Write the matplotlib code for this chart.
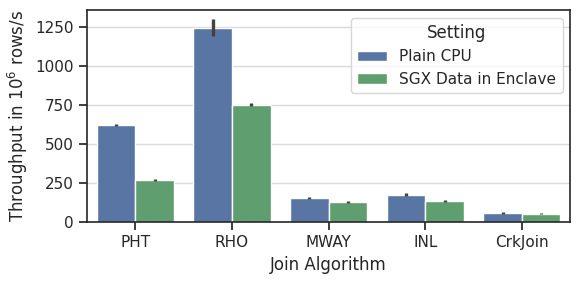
import numpy as np
import matplotlib
matplotlib.use("Agg")
import matplotlib.pyplot as plt
import seaborn as sns

algorithms = ["PHT", "RHO", "MWAY", "INL", "CrkJoin"]
settings = ["Plain CPU", "SGX Data in Enclave"]

# mean throughput (10^6 rows/s) and error bar bounds
plain_cpu = [622, 1245, 153, 175, 56]
plain_lo = [614, 1195, 147, 168, 52]
plain_hi = [632, 1305, 161, 183, 61]
sgx = [268, 752, 127, 133, 53]
sgx_lo = [262, 745, 121, 128, 49]
sgx_hi = [276, 762, 134, 140, 58]

sns.set_theme(style="ticks", palette="deep")
plt.rcParams["font.family"] = ["DejaVu Sans"]

fig = plt.figure(figsize=(5.8, 2.82), dpi=100)
ax = fig.add_axes([0.15, 0.213, 0.833, 0.752])

deep = sns.color_palette("deep")
colors = [sns.desaturate(deep[0], 0.75), sns.desaturate(deep[2], 0.75)]

x = np.arange(len(algorithms))
w = 0.4
series = [(plain_cpu, plain_lo, plain_hi), (sgx, sgx_lo, sgx_hi)]
for i, (vals, lo, hi) in enumerate(series):
    pos = x - w / 2 + i * w
    ax.bar(pos, vals, width=w, color=colors[i], edgecolor="white",
           linewidth=1.0, label=settings[i], zorder=2)
    ax.vlines(pos, lo, hi, color=".26", linewidth=2.4, zorder=3)

ax.set_xlim(-0.5, len(algorithms) - 0.5)
ax.set_ylim(0, 1363)
ax.set_yticks([0, 250, 500, 750, 1000, 1250])
ax.set_xticks(x)
ax.set_xticklabels(algorithms)
ax.yaxis.grid(True, color="#d9d9d9", linewidth=1.0, zorder=0)
ax.set_axisbelow(True)
ax.set_xlabel("Join Algorithm", fontsize=12)
ax.set_ylabel("Throughput in $10^6$ rows/s", fontsize=12)
ax.tick_params(labelsize=11)
for s in ax.spines.values():
    s.set_linewidth(1.2)
    s.set_color(".15")

ax.legend(title="Setting", loc="upper right", fontsize=11, title_fontsize=12)

fig.savefig("out.png", dpi=100)
